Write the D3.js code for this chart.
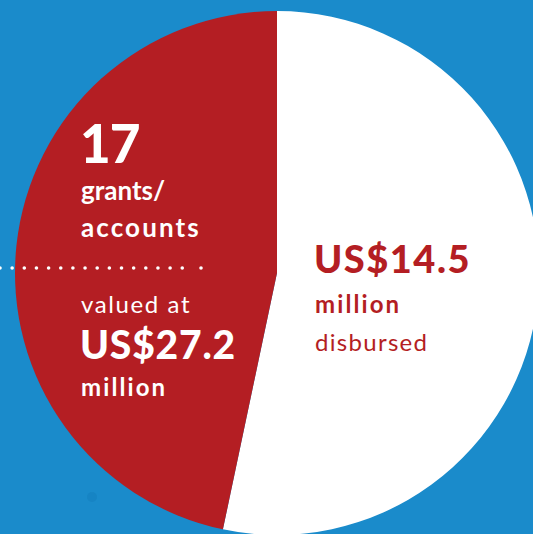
<!DOCTYPE html>
<html lang="en">
<head>
<meta charset="UTF-8">
<title>Grants pie</title>
<style>
  html, body { margin: 0; padding: 0; background: #1a8bcb; }
  svg { display: block; }
  text { font-family: Lato, "Open Sans", sans-serif; }
</style>
</head>
<body>
<div id="chart"></div>
<script src="https://d3js.org/d3.v7.min.js"></script>
<script>
// values (US$ million)
var sliceNames = ["disbursed", "not yet disbursed"];
var sliceValues = [14.5, 27.2 - 14.5];
var sliceColors = ["#ffffff", "#b41e23"];

var grantCount = "17";
var totalLabel = "US$27.2";
var disbursedLabel = "US$14.5";

var width = 533, height = 534;
var cx = 277, cy = 273, radius = 262;

var svg = d3.select("#chart").append("svg")
  .attr("width", width)
  .attr("height", height);

svg.append("rect")
  .attr("width", width).attr("height", height)
  .attr("fill", "#1a8bcb");

// faint decoration dot bottom-left
svg.append("circle")
  .attr("cx", 92).attr("cy", 497).attr("r", 5)
  .attr("fill", "#1682c0").attr("opacity", 0.7);

var pie = d3.pie().sort(null).value(function(d) { return d; });
var arc = d3.arc().innerRadius(0).outerRadius(radius);

var g = svg.append("g").attr("transform", "translate(" + cx + "," + cy + ")");
g.selectAll("path")
  .data(pie(sliceValues))
  .enter().append("path")
    .attr("d", arc)
    .attr("fill", function(d, i) { return sliceColors[i]; });

// dotted separator
var dots = d3.range(0, 186, 12.15);
dots.push(201);
svg.append("g").selectAll("circle")
  .data(dots)
  .enter().append("circle")
    .attr("cx", function(d) { return d; })
    .attr("cy", 268)
    .attr("r", 1.8)
    .attr("fill", "#ffffff");

// left labels (white)
var left = svg.append("g").attr("fill", "#ffffff");
left.append("text").attr("x", 80).attr("y", 163)
  .attr("font-size", 53).attr("font-weight", 900)
  .attr("letter-spacing", -1).text(grantCount);
left.append("text").attr("x", 81).attr("y", 200)
  .attr("font-size", 26).attr("font-weight", 700)
  .attr("letter-spacing", 0).text("grants/");
left.append("text").attr("x", 81).attr("y", 237)
  .attr("font-size", 26).attr("font-weight", 700)
  .attr("letter-spacing", 2.1).text("accounts");
left.append("text").attr("x", 81).attr("y", 313)
  .attr("font-size", 24).attr("font-weight", 400)
  .attr("letter-spacing", 1.6).text("valued at");
left.append("text").attr("x", 80).attr("y", 359)
  .attr("font-size", 39).attr("font-weight", 900)
  .attr("letter-spacing", 0.8).text(totalLabel);
left.append("text").attr("x", 81).attr("y", 396)
  .attr("font-size", 24).attr("font-weight", 700)
  .attr("letter-spacing", 2.1).text("million");

// right labels (red)
var right = svg.append("g").attr("fill", "#b41e23");
right.append("text").attr("x", 314).attr("y", 273)
  .attr("font-size", 38).attr("font-weight", 900)
  .attr("letter-spacing", 1.5).text(disbursedLabel);
right.append("text").attr("x", 315).attr("y", 313)
  .attr("font-size", 24).attr("font-weight", 700)
  .attr("letter-spacing", 2.1).text("million");
right.append("text").attr("x", 315).attr("y", 351)
  .attr("font-size", 24).attr("font-weight", 400)
  .attr("letter-spacing", 1.3).text("disbursed");
</script>
</body>
</html>
